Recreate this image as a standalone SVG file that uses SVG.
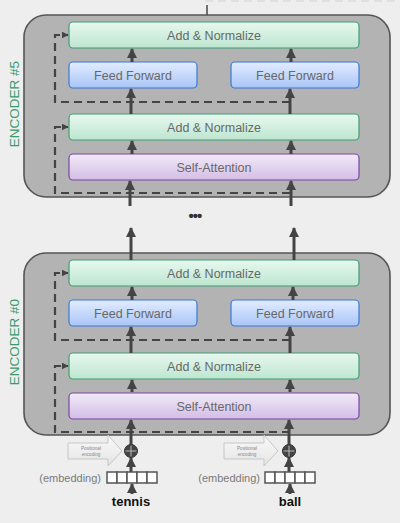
<svg xmlns="http://www.w3.org/2000/svg" width="400" height="523" viewBox="0 0 400 523">
<defs>
<linearGradient id="gGreen" x1="0" y1="0" x2="0" y2="1"><stop offset="0" stop-color="#e8f8ef"/><stop offset="1" stop-color="#bde6d0"/></linearGradient>
<linearGradient id="gBlue" x1="0" y1="0" x2="0" y2="1"><stop offset="0" stop-color="#e2ecff"/><stop offset="1" stop-color="#a9c5f7"/></linearGradient>
<linearGradient id="gPurple" x1="0" y1="0" x2="0" y2="1"><stop offset="0" stop-color="#f2eaf8"/><stop offset="1" stop-color="#d3bde6"/></linearGradient>
<linearGradient id="gPos" x1="0" y1="0" x2="0" y2="1"><stop offset="0" stop-color="#fafafa"/><stop offset="1" stop-color="#e4e4e4"/></linearGradient>
<marker id="ah" viewBox="0 0 10 10" refX="9" refY="5" markerWidth="10" markerHeight="10" markerUnits="userSpaceOnUse" orient="auto"><path d="M0,0 L10,5 L0,10 z" fill="#444"/></marker>
<marker id="ahs" viewBox="0 0 10 10" refX="9" refY="5" markerWidth="7" markerHeight="7" markerUnits="userSpaceOnUse" orient="auto"><path d="M0,0 L10,5 L0,10 z" fill="#444"/></marker>
<style>
.enc{fill:#b3b3b3;stroke:#555;stroke-width:1.6}
.an{fill:url(#gGreen);stroke:#3f9e74;stroke-width:1.2}
.ff{fill:url(#gBlue);stroke:#3b78d8;stroke-width:1.2}
.sa{fill:url(#gPurple);stroke:#7a45a3;stroke-width:1.2}
.lbl{font-family:"Liberation Sans",Arial,sans-serif;font-size:12.5px;fill:#686868;text-anchor:middle}
.enclbl{font-family:"Liberation Sans",Arial,sans-serif;font-size:13.5px;fill:#3a9b6e;text-anchor:middle}
.arr{stroke:#444;stroke-width:3;fill:none;marker-end:url(#ah)}
.dasharr{stroke:#444;stroke-width:2.2;fill:none;stroke-dasharray:8,5;marker-end:url(#ahs)}
.pos{fill:url(#gPos);stroke:#c6c6c6;stroke-width:1}
.postxt{font-family:"Liberation Sans",Arial,sans-serif;font-size:4.6px;fill:#888;text-anchor:middle}
.emb{fill:#fff;stroke:#555;stroke-width:1.5}
.embtxt{font-family:"Liberation Sans",Arial,sans-serif;font-size:11px;fill:#7a7a7a;text-anchor:end}
.word{font-family:"Liberation Sans",Arial,sans-serif;font-size:13px;font-weight:bold;fill:#111;text-anchor:middle}
</style>
</defs>
<rect x="0" y="0" width="400" height="523" fill="#eeeeee"/>

<g id="top-stub">
<line x1="205" y1="1" x2="400" y2="1" stroke="#e0e0e0" stroke-width="2" stroke-dasharray="8,5"/>
<line x1="207" y1="5" x2="207" y2="15" stroke="#444" stroke-width="1.5"/>
</g>

<g id="encoder5">
<rect class="enc" x="24" y="15" width="366" height="182" rx="22"/>
<text class="enclbl" transform="translate(19,104) rotate(-90)">ENCODER #5</text>
</g>
<g id="enc5-addnorm1"><rect class="an" x="69" y="22" width="290" height="26" rx="4"/><text class="lbl" x="214" y="39.5">Add &amp; Normalize</text></g>
<g id="enc5-ff1"><rect class="ff" x="69" y="62" width="128" height="26" rx="4"/><text class="lbl" x="133" y="79.5">Feed Forward</text></g>
<g id="enc5-ff2"><rect class="ff" x="231" y="62" width="128" height="26" rx="4"/><text class="lbl" x="295" y="79.5">Feed Forward</text></g>
<g id="enc5-addnorm2"><rect class="an" x="69" y="114" width="290" height="26" rx="4"/><text class="lbl" x="214" y="131.5">Add &amp; Normalize</text></g>
<g id="enc5-selfatt"><rect class="sa" x="69" y="154" width="290" height="26" rx="4"/><text class="lbl" x="214" y="171.5">Self-Attention</text></g>

<g id="encoder0">
<rect class="enc" x="24" y="253" width="366" height="182" rx="22"/>
<text class="enclbl" transform="translate(19,342) rotate(-90)">ENCODER #0</text>
</g>
<g id="enc0-addnorm1"><rect class="an" x="69" y="260" width="290" height="26" rx="4"/><text class="lbl" x="214" y="277.5">Add &amp; Normalize</text></g>
<g id="enc0-ff1"><rect class="ff" x="69" y="300" width="128" height="26" rx="4"/><text class="lbl" x="133" y="317.5">Feed Forward</text></g>
<g id="enc0-ff2"><rect class="ff" x="231" y="300" width="128" height="26" rx="4"/><text class="lbl" x="295" y="317.5">Feed Forward</text></g>
<g id="enc0-addnorm2"><rect class="an" x="69" y="353" width="290" height="26" rx="4"/><text class="lbl" x="214" y="370.5">Add &amp; Normalize</text></g>
<g id="enc0-selfatt"><rect class="sa" x="69" y="393" width="290" height="26" rx="4"/><text class="lbl" x="214" y="410.5">Self-Attention</text></g>

<g id="connectors">
<line class="arr" x1="132" y1="62" x2="132" y2="49"/>
<line class="arr" x1="291" y1="62" x2="291" y2="49"/>
<line class="arr" x1="131" y1="114" x2="131" y2="89"/>
<line class="arr" x1="290" y1="114" x2="290" y2="89"/>
<line class="arr" x1="132" y1="154" x2="132" y2="141"/>
<line class="arr" x1="291" y1="154" x2="291" y2="141"/>
<line class="arr" x1="130" y1="206" x2="130" y2="181"/>
<line class="arr" x1="291" y1="206" x2="291" y2="181"/>
<polyline class="dasharr" points="290,102 55,102 55,35 68,35"/>
<polyline class="dasharr" points="290,193 55,193 55,127 68,127"/>
<line class="arr" x1="131" y1="260" x2="131" y2="228"/>
<line class="arr" x1="294" y1="260" x2="294" y2="228"/>
<line class="arr" x1="132" y1="300" x2="132" y2="287"/>
<line class="arr" x1="293" y1="300" x2="293" y2="287"/>
<line class="arr" x1="131" y1="353" x2="131" y2="327"/>
<line class="arr" x1="290" y1="353" x2="290" y2="327"/>
<line class="arr" x1="132" y1="392" x2="132" y2="380"/>
<line class="arr" x1="290" y1="392" x2="290" y2="380"/>
<line class="arr" x1="131" y1="446" x2="131" y2="420"/>
<line class="arr" x1="289" y1="446" x2="289" y2="420"/>
<polyline class="dasharr" points="290,340 55,340 55,273 68,273"/>
<polyline class="dasharr" points="290,432 55,432 55,366 68,366"/>
<line class="arr" x1="131" y1="472" x2="131" y2="458"/>
<line class="arr" x1="289" y1="472" x2="289" y2="458"/>
<line class="arr" x1="132" y1="494" x2="132" y2="484"/>
<line class="arr" x1="290" y1="494" x2="290" y2="484"/>
</g>

<g id="ellipsis"><text x="195" y="221" font-family="Liberation Sans,Arial,sans-serif" font-size="15" font-weight="bold" fill="#333" text-anchor="middle" letter-spacing="-1">•••</text></g>

<g id="posenc-left">
<polygon class="pos" points="68,443 108,443 108,435 122,451 108,466 108,459 68,459"/>
<text class="postxt" x="91" y="450">Positional</text>
<text class="postxt" x="91" y="456">encoding</text>
</g>
<g id="sum-left">
<circle cx="131" cy="451" r="6.5" fill="#444" stroke="#333" stroke-width="1"/>
<line x1="125.5" y1="451" x2="136.5" y2="451" stroke="#bbb" stroke-width="1"/>
<line x1="131" y1="445.5" x2="131" y2="456.5" stroke="#bbb" stroke-width="1"/>
</g>
<g id="embedding-left">
<text class="embtxt" x="101" y="482">(embedding)</text>
<rect class="emb" x="107" y="472" width="10" height="11"/>
<rect class="emb" x="117" y="472" width="10" height="11"/>
<rect class="emb" x="127" y="472" width="10" height="11"/>
<rect class="emb" x="137" y="472" width="10" height="11"/>
<rect class="emb" x="147" y="472" width="10" height="11"/>
</g>
<g id="word-tennis"><text class="word" x="131" y="506">tennis</text></g>

<g id="posenc-right">
<polygon class="pos" points="224,443 264,443 264,435 278,451 264,466 264,459 224,459"/>
<text class="postxt" x="247" y="450">Positional</text>
<text class="postxt" x="247" y="456">encoding</text>
</g>
<g id="sum-right">
<circle cx="289" cy="451" r="6.5" fill="#444" stroke="#333" stroke-width="1"/>
<line x1="283.5" y1="451" x2="294.5" y2="451" stroke="#bbb" stroke-width="1"/>
<line x1="289" y1="445.5" x2="289" y2="456.5" stroke="#bbb" stroke-width="1"/>
</g>
<g id="embedding-right">
<text class="embtxt" x="260" y="482">(embedding)</text>
<rect class="emb" x="265" y="472" width="10" height="11"/>
<rect class="emb" x="275" y="472" width="10" height="11"/>
<rect class="emb" x="285" y="472" width="10" height="11"/>
<rect class="emb" x="295" y="472" width="10" height="11"/>
<rect class="emb" x="305" y="472" width="10" height="11"/>
</g>
<g id="word-ball"><text class="word" x="290" y="506">ball</text></g>
</svg>
